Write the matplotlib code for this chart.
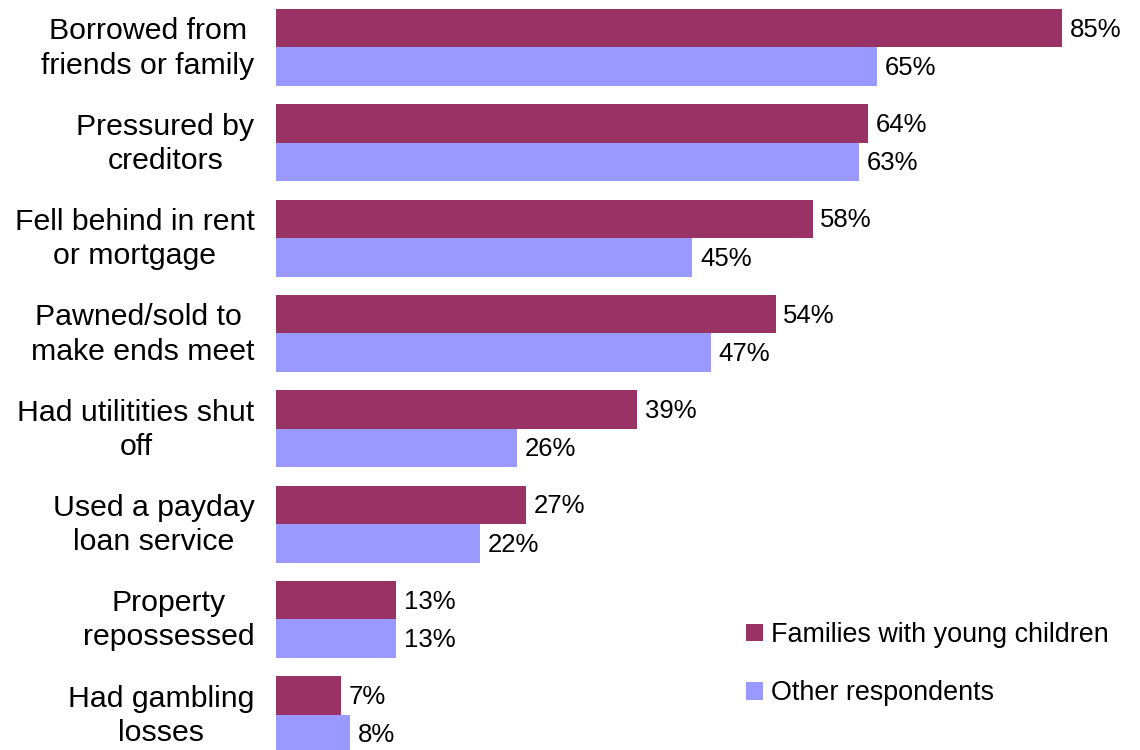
import matplotlib.pyplot as plt
import matplotlib.transforms as mtransforms
import numpy as np

plt.rcParams["font.family"] = ["Liberation Sans", "DejaVu Sans"]

categories = [
    "Borrowed from\nfriends or family",
    "Pressured by\ncreditors",
    "Fell behind in rent\nor mortgage",
    "Pawned/sold to \nmake ends meet",
    "Had utilitities shut\noff",
    "Used a payday\nloan service",
    "Property\nrepossessed",
    "Had gambling\nlosses",
]
families = [85, 64, 58, 54, 39, 27, 13, 7]
others = [65, 63, 45, 47, 26, 22, 13, 8]

col_fam = "#993366"
col_oth = "#9999FF"

fig = plt.figure(figsize=(11.4, 7.5), dpi=100)
ax = fig.add_axes([276 / 1140, 0, 864 / 1140, 1])

y = np.arange(len(categories))
h = 0.404
b1 = ax.barh(y - h / 2, families, height=h, color=col_fam, label="Families with young children")
b2 = ax.barh(y + h / 2, others, height=h, color=col_oth, label="Other respondents")

for bars, vals in ((b1, families), (b2, others)):
    for bar, v in zip(bars, vals):
        ax.text(bar.get_width() + 0.85, bar.get_y() + bar.get_height() / 2 + 0.015, f"{v}%",
                va="center", ha="left", fontsize=18.5)

ax.set_xlim(0, 93.4)
ax.set_ylim(7.371, -0.498)
ax.set_yticks(y)
ax.set_yticklabels(categories, fontsize=21.8, ha="right", multialignment="center",
                   linespacing=1.28)
ax.tick_params(axis="y", length=0, pad=15.5)
# nudge the two-line labels up a little
shift = mtransforms.ScaledTranslation(0, 5 / 100, fig.dpi_scale_trans)
for lbl in ax.get_yticklabels():
    lbl.set_transform(lbl.get_transform() + shift)
ax.set_xticks([])
for s in ax.spines.values():
    s.set_visible(False)

ax.legend(loc="upper left", bbox_to_anchor=(746 / 1140, 1 - 622 / 750),
          bbox_transform=fig.transFigure, frameon=False, fontsize=19.4,
          handlelength=0.63, handleheight=0.63, handletextpad=0.3,
          labelspacing=1.2, borderaxespad=0, borderpad=0)

fig.savefig("out.png", dpi=100)
